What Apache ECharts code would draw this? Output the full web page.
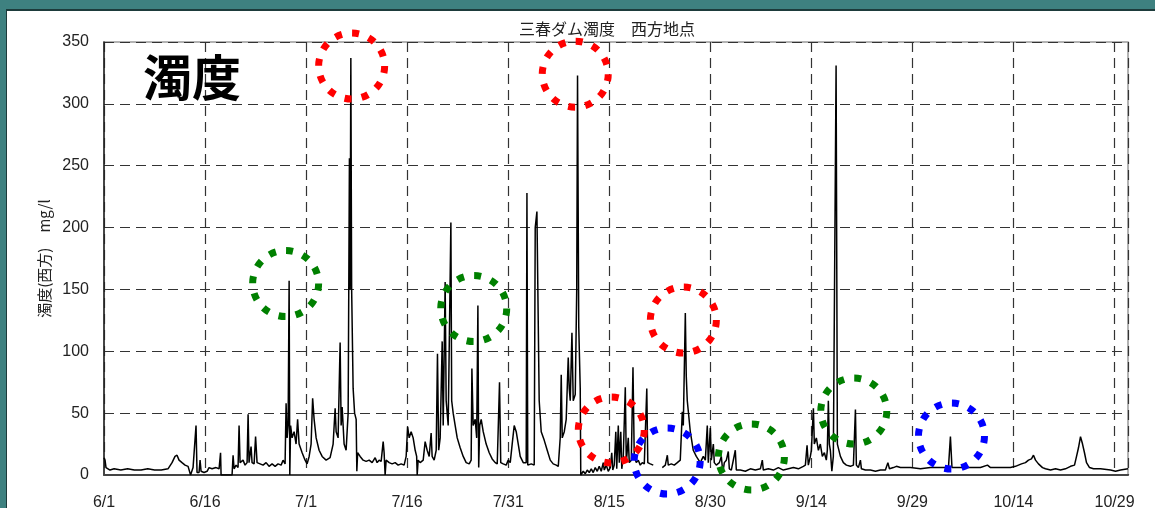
<!DOCTYPE html>
<html>
<head>
<meta charset="utf-8">
<title>三春ダム濁度 西方地点</title>
<script src="https://cdn.jsdelivr.net/npm/echarts@6/dist/echarts.min.js"></script>
<style>
  html, body { margin: 0; padding: 0; width: 1155px; height: 508px; overflow: hidden; background: #3e8180; }
  #panel { position: absolute; left: 6px; top: 9px; right: 0; bottom: 0; background: #fff;
           border-left: 1px solid #1d3b3b; border-top: 2px solid #1d3b3b; }
  #chart { position: absolute; left: 0; top: 0; width: 1155px; height: 508px; }
</style>
</head>
<body>
<div id="panel"></div>
<div id="chart"></div>
<script>
// Axis tick labels, one every 15 days starting 6/1
const xTickLabels = ['6/1', '6/16', '7/1', '7/16', '7/31', '8/15', '8/30', '9/14', '9/29', '10/14', '10/29'];
const yTicks = [0, 50, 100, 150, 200, 250, 300, 350];

// Elapsed days since 6/1 and measured turbidity (mg/l); null marks missing record
const days = [
  0.00, 0.15, 0.30, 0.89, 1.5, 2.5, 3.5, 4.5, 5.5, 6.5, 7.5, 8.5, 9.5,
  10.10, 10.54, 10.84, 11.14, 11.58, 12.03, 12.48, 12.77, 12.85, 13.07, 13.22, 13.51, 13.66, 13.81,
  14.11, 14.26, 14.41, 14.85, 15.30, 15.59, 16.04, 16.63, 17.08, 17.30, 17.38, 19.01, 19.16, 19.31,
  19.60, 19.90, 20.05, 20.20, 20.64, 20.94, 21.24, 21.39, 21.53, 21.83, 21.98, 22.28, 22.50, 22.72,
  23.17, 23.61, 24.06, 24.50, 24.95, 25.40, 25.84, 26.29, 26.58, 26.88, 27.03, 27.18, 27.33, 27.48,
  27.58, 27.70, 27.92, 28.22, 28.51, 28.74, 28.96, 29.41, 29.85, 30.15, 30.45, 30.74, 30.97, 31.19,
  31.49, 31.93, 32.38, 32.97, 33.56, 34.01, 34.31, 34.46, 34.75, 35.05, 35.20, 35.35, 35.64, 35.94,
  36.24, 36.43, 36.53, 36.64, 36.76, 36.98, 37.20, 37.43, 37.53, 37.65, 38.02, 38.47, 38.91, 39.36,
  39.80, 40.25, 40.54, 40.84, 41.14, 41.44, 41.58, 41.73, 41.88, 42.33, 42.77, 43.22, 43.66, 44.11,
  44.55, 44.85, 45.07, 45.30, 45.59, 45.89, 46.19, 46.41, 46.49, 46.63, 46.93, 47.38, 47.67, 47.97,
  48.27, 48.56, 48.71, 49.01, 49.31, 49.50, 49.68, 49.90, 50.20, 50.35, 50.64, 50.79, 51.09, 51.49,
  51.61, 51.83, 52.13, 52.43, 52.87, 53.32, 53.76, 54.21, 54.50, 54.61, 54.80, 55.10, 55.32, 55.50,
  55.62, 55.77, 55.99, 56.29, 56.73, 57.18, 57.62, 58.07, 58.37, 58.71, 58.89, 59.26, 59.70, 60.00,
  60.30, 60.59, 60.89, 61.19, 61.49, 61.78, 62.23, 62.67, 62.78, 62.90, 63.42, 63.86, 64.01, 64.26,
  64.60, 64.90, 65.35, 65.79, 66.24, 66.68, 67.13, 67.43, 67.72, 67.87, 68.02, 68.32, 68.61, 68.91,
  69.06, 69.21, 69.46, 69.65, 69.95, 70.17, 70.29, 70.47, 70.69, 70.77, 71.14, 71.44, 71.73, 72.03,
  72.33, 72.62, 72.92, 73.22, 73.51, 73.81, 74.11, 74.26, 74.55, 74.85, 75.15, 75.37, 75.52, 75.74,
  75.97, 76.11, 76.34, 76.49, 76.71, 76.86, 77.08, 77.38, 77.53, 77.82, 77.97, 78.27, 78.52, 78.71,
  79.01, 79.31, 79.60, 79.90, 80.20, 80.57, 80.72, 81.09, 81.53, 82.20, 82.87, 83.32, 83.62, 83.76,
  84.21, 84.65, 85.10, 85.54, 85.84, 85.99, 86.29, 86.43, 86.58, 87.03, 87.47, 87.92, 88.51, 88.96,
  89.26, 89.55, 89.70, 90.00, 90.15, 90.45, 90.59, 90.89, 91.34, 91.63, 91.86, 92.08, 92.38, 92.67,
  92.82, 93.12, 93.71, 93.86, 94.45, 95.20, 95.94, 96.68, 97.43, 97.72, 97.87, 98.61, 99.36, 100.10,
  100.84, 101.59, 102.33, 103.07, 103.81, 104.11, 104.36, 104.55, 104.85, 105.00, 105.30, 105.44,
  105.74, 106.04, 106.33, 106.63, 106.93, 107.22, 107.37, 107.52, 107.67, 107.82, 108.04, 108.26,
  108.67, 108.86, 109.31, 109.75, 110.20, 110.79, 111.24, 111.54, 111.68, 111.98, 112.28, 112.43,
  113.02, 113.76, 114.51, 115.25, 115.99, 116.36, 116.59, 117.18, 117.62, 118.22, 119.70, 121.19,
  122.67, 124.16, 125.35, 125.64, 125.87, 127.13, 128.61, 130.10, 131.14, 131.59, 133.07, 134.55,
  135.30, 135.74, 136.19, 136.78, 137.23, 137.67, 137.97, 138.27, 138.71, 139.31, 139.75, 140.50,
  141.24, 141.98, 142.72, 143.47, 144.06, 144.36, 144.65, 144.95, 145.25, 145.54, 145.84, 146.29,
  146.88, 147.92, 149.41, 150.15, 150.89, 152.00
];
const turbidity = [
  14, 12, 6, 4, 5, 4, 5, 4, 4, 5, 4, 4, 5,
  10, 15, 16, 12, 10, 8, 7, 6, 0, 0, 6, 5, 40, 2,
  2, 12, 3, 2, 3, 6, 5, 6, 5, 18, 0, 0, 16, 5,
  8, 6, 40, 10, 12, 8, 10, 49, 10, 23, 10, 9, 31, 10,
  9, 8, 10, 7, 9, 7, 9, 8, 12, 9, 58, 30, 40, 157,
  0, 40, 30, 35, 25, 45, 25, 18, 12, 9, 15, 25, 62, 45,
  30, 20, 15, 12, 14, 25, 54, 35, 30, 107, 40, 55, 25, 20,
  50, 256, 150, 337, 150, 70, 50, 45, 3, 18, 15, 12, 11, 12,
  10, 14, 10, 12, 11, 27, 18, 0, 12, 10, 9, 10, 8, 9,
  8, 15, 39, 30, 35, 30, 20, 15, 0, 12, 10, 12, 27, 20,
  15, 34, 15, 12, 20, 98, 20, 30, 108, 40, 156, 60, 40, 204,
  60, 50, 40, 30, 22, 15, 10, 9, 12, 86, 40, 45, 30, 137,
  6, 40, 45, 35, 25, 18, 13, 10, 9, 75, 10, 9, 8, 12,
  10, 25, 40, 35, 25, 15, 10, 10, 228, 8, 9, 8, 200, 213,
  60, 35, 28, 20, 12, 9, 8, 7, 30, 81, 30, 35, 45, 95,
  70, 60, 115, 60, 65, 150, 323, 120, 70, 0, 3, 1, 4, 2,
  5, 2, 6, 3, 7, 3, 10, 4, 8, 3, 6, 18, 4, 8,
  35, 5, 40, 10, 35, 5, 15, 71, 10, 30, 10, 12, 87, 15,
  10, 12, 8, 10, 9, 70, 10, 9, 8, null, 6, 8, 16, 8,
  9, 8, 10, 12, 51, 40, 131, 80, 60, 35, 20, 15, 10, 15,
  12, 40, 10, 38, 12, 25, 10, 8, 10, 15, 2, 10, 12, 19,
  5, 4, 20, 4, 4, 3, 5, 4, 5, 12, 4, 5, 4, 6,
  4, 5, 6, 5, 7, 8, 24, 8, 15, 20, 54, 25,
  30, 20, 25, 15, 18, 12, 20, 60, 25, 20, 3, 15,
  331, 25, 15, 10, 8, 7, 8, 53, 8, 6, 12, 5,
  4, 4, 3, 4, 4, 10, 5, 6, 7, 6, 6, 5,
  6, 6, 6, 31, 6, 6, 6, 6, 8, 6, 6, 6,
  7, 8, 9, 10, 12, 13, 16, 12, 9, 6, 5, 4,
  5, 4, 5, 7, 8, 15, 22, 31, 25, 18, 10, 6,
  5, 5, 4, 3, 4, 5
];

// Dotted rings that highlight notable events (day, turbidity, colour)
const ringDays = [36.76, 69.95, 26.96, 54.88, 86.0, 75.3, 83.6, 96.1, 111.3, 125.8];
const ringValues = [330.6, 324.0, 154.8, 134.6, 125.3, 36.4, 11.3, 14.6, 51.7, 31.5];
const ringColors = ['#ff0000', '#ff0000', '#008000', '#008000', '#ff0000', '#ff0000', '#0000ff', '#008000', '#008000', '#0000ff'];

const series = days.map((d, i) => [d, turbidity[i]]);
const rings = ringDays.map((d, i) => ({
  value: [d, ringValues[i]],
  itemStyle: { borderColor: ringColors[i] }
}));

const chart = echarts.init(document.getElementById('chart'), null, { renderer: 'canvas' });
chart.setOption({
  animation: false,
  backgroundColor: 'transparent',
  textStyle: { fontFamily: 'Liberation Sans, Arial, sans-serif' },
  title: [
    {
      text: '三春ダム濁度　西方地点',
      left: 514, top: 16,
      textStyle: { fontFamily: 'Noto Sans CJK JP', fontSize: 16, fontWeight: 'normal', color: '#222' }
    },
    {
      text: '濁度',
      left: 138, top: 48,
      textStyle: { fontFamily: 'Noto Sans CJK JP', fontSize: 49, fontWeight: 'bold', color: '#000' }
    }
  ],
  grid: {
    left: 104, top: 42, right: 27, bottom: 33,
    outerBoundsMode: 'none',
    show: true, borderColor: '#9a9a9a', borderWidth: 1.5, backgroundColor: 'transparent'
  },
  xAxis: {
    type: 'value', min: 0, max: 152, interval: 15,
    axisLine: { show: true, onZero: false, lineStyle: { color: '#444', width: 2 } },
    axisTick: { show: false },
    axisLabel: {
      show: true, margin: 20, fontSize: 16, color: '#222',
      showMaxLabel: false,
      formatter: v => (v % 15 === 0 ? (xTickLabels[v / 15] || '') : '')
    },
    splitLine: { show: true, lineStyle: { color: '#333', width: 1.2, type: [10, 6] } }
  },
  yAxis: {
    type: 'value', min: yTicks[0], max: yTicks[yTicks.length - 1], interval: 50,
    name: '濁度(西方)　mg/l', nameLocation: 'middle', nameGap: 52, nameRotate: 90,
    nameTextStyle: { fontFamily: 'Noto Sans CJK JP', fontSize: 15, color: '#222' },
    axisLine: { show: true, lineStyle: { color: '#222', width: 1.5 } },
    axisTick: { show: false },
    axisLabel: { margin: 15, fontSize: 16, color: '#222' },
    splitLine: { show: true, lineStyle: { color: '#333', width: 1.2, type: [10, 6] } }
  },
  series: [
    {
      name: '濁度',
      type: 'line',
      data: series,
      showSymbol: false,
      connectNulls: false,
      lineStyle: { color: '#000', width: 1.5 },
      z: 3
    },
    {
      name: '注目',
      type: 'scatter',
      data: rings,
      symbol: 'circle',
      symbolSize: 66,
      clip: false,
      silent: true,
      itemStyle: { color: 'rgba(0,0,0,0)', borderWidth: 7, borderType: [7, 10.3], opacity: 1 },
      z: 5
    }
  ]
});
</script>
</body>
</html>
